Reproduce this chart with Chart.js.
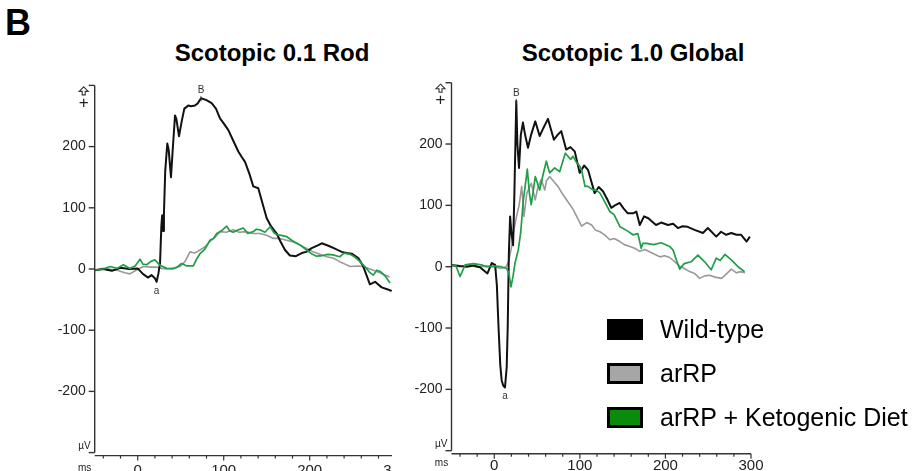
<!DOCTYPE html>
<html>
<head>
<meta charset="utf-8">
<title>Scotopic ERG</title>
<script src="https://cdn.jsdelivr.net/npm/chart.js@4.4.1/dist/chart.umd.min.js"></script>
<style>
    body {
        margin: 0;
        width: 914px;
        height: 471px;
        overflow: hidden;
        background: #fff;
        position: relative;
        font-family: "Liberation Sans", Arial, sans-serif;
        color: #000;
    }
    #panelLabel {
        position: absolute;
        left: 5px;
        top: 5px;
        font-size: 36px;
        line-height: 36px;
        font-weight: bold;
    }
    .title {
        position: absolute;
        top: 41px;
        font-size: 24px;
        line-height: 24px;
        font-weight: bold;
        white-space: nowrap;
        transform: translateX(-50%);
    }
    #rodWrap {
        position: absolute;
        left: 0;
        top: 0;
        width: 392px;
        height: 471px;
        overflow: hidden;
    }
    #globalWrap {
        position: absolute;
        left: 400px;
        top: 0;
        width: 380px;
        height: 471px;
    }
    .legend-row {
        position: absolute;
        left: 607px;
        height: 21px;
    }
    .legend-box {
        position: absolute;
        left: 0;
        top: 0;
        width: 36px;
        height: 21px;
        box-sizing: border-box;
        border: 3px solid #000;
    }
    .legend-text {
        position: absolute;
        left: 53px;
        top: -2px;
        font-size: 25px;
        line-height: 25px;
        white-space: nowrap;
    }
</style>
</head>
<body>
<div id="panelLabel">B</div>
<div class="title" style="left:272px">Scotopic 0.1 Rod</div>
<div class="title" style="left:633px">Scotopic 1.0 Global</div>
<div id="rodWrap"><canvas id="rodChart" width="460" height="471"></canvas></div>
<div id="globalWrap"><canvas id="globalChart" width="380" height="471"></canvas></div>
<div id="legend"></div>

<script>
// Groups
const groupNames = ['Wild-type', 'arRP', 'arRP + Ketogenic Diet'];
const lineColors = ['#111111', '#999999', '#1f9e48'];
const boxColors = ['#000000', '#a6a6a6', '#0a8c0a'];

// Axis ticks
const yTickValues = [-300, -200, -100, 0, 100, 200, 300];
const xMajorTicks = [0, 100, 200, 300];
const xMinorStep = 20;

// Scotopic 0.1 Rod traces (ms / µV)
const rodWildTypeMs = [-50, -40, -30, -20, -10, 0, 6, 12, 16, 20, 22, 24, 26, 27.5, 28.5, 29.5, 30.5, 32, 34.4, 36, 38.7, 40.5, 43.4, 45, 48, 51, 54.2, 58.8, 62, 66.6, 70, 73.6, 80, 86, 91, 95.7, 100, 105.4, 111, 117, 121, 124.8, 130, 134.4, 140.2, 145, 150, 155, 161.6, 166, 171.3, 177, 184, 190.7, 196, 202.3, 210, 214, 221.7, 228, 237.2, 243, 248.8, 256.5, 262, 266, 270, 276, 283.7, 290, 295.3];
const rodWildTypeUv = [-2, 0, -3, 2, 0, 1, -8, -14, -10, -15, -21, -8, 10, 70, 88, 62, 90, 160, 205, 195, 150, 190, 251, 245, 217, 240, 262, 267, 266, 267, 271, 279, 276, 271, 262, 246, 238, 227, 210, 192, 183, 175, 155, 135, 132, 108, 83, 70, 58, 45, 31, 22, 21, 26, 28, 34, 39, 42, 38, 34, 28, 26, 25, 18, 5, -10, -25, -21, -30, -33, -36];

const rodArrpMs = [-50, -40, -24, -15, -9, -2, 6.5, 15, 22, 28, 33.7, 42, 49, 55, 60.8, 66, 72.4, 78, 84, 90, 95.7, 103, 111, 118, 126.7, 134, 142, 150, 157.7, 165, 173, 181, 189, 196, 204, 212, 219.8, 227, 235, 241, 247, 255, 262, 270, 278, 285, 293];
const rodArrpUv = [-2, 1, -2, -6, -8, -2, 4, 3, 3, 1, 0, 2, 4, 12, 28, 26, 31, 36, 45, 52, 61, 60, 64, 60, 61, 58, 58, 55, 50, 50, 47, 44, 39, 34, 28, 24, 20, 18, 12, 8, 4, 5, 4, 0, -4, -8, -13];

const rodKetoMs = [-50, -40, -32, -24, -16.7, -9, -3, 2.7, 6, 10.5, 15, 20, 26, 33.7, 40, 45, 51, 57, 64.7, 68, 72.4, 78, 84, 88, 91.9, 97, 103.5, 107, 111, 117, 122.8, 128, 134.4, 138, 142, 148, 154, 158, 161.6, 167, 173, 179, 185, 190, 196.5, 202, 208, 215, 221, 227, 235, 240, 247, 252, 258.5, 266, 270, 274, 278, 282, 288, 293.4];
const rodKetoUv = [-2, 0, 4, 1, 7, 1, 5, 16, 8, 7, 12, 15, 6, 1, 0, 2, 9, 5, 5, 15, 25, 32, 47, 50, 58, 62, 70, 62, 60, 64, 67, 58, 61, 65, 64, 60, 69, 60, 56, 55, 53, 47, 42, 38, 31, 25, 21, 22, 24, 23, 20, 26, 24, 20, 12, 1, -6, -10, -2, -4, -12, -23];

// Scotopic 1.0 Global traces (ms / µV)
const globalWildTypeMs = [-52, -40, -32, -24, -16.7, -8, -3, 1, 3, 5, 7, 8.6, 10.5, 12.5, 14.5, 15.7, 17, 18.5, 20, 22, 23.5, 25.7, 27, 28.9, 31, 33.5, 36, 39.4, 43, 47.9, 53, 57, 62.7, 66, 69.7, 74, 78.3, 84, 89, 94, 99.8, 105, 109.5, 117.3, 122, 127, 132, 136.7, 141, 146.5, 151, 156, 162.4, 166, 170, 175, 180, 189, 195, 203, 209, 214.6, 220, 226, 234, 243.8, 249.6, 259.4, 265, 271, 277, 283, 288.5, 294.9, 298.7];
const globalWildTypeUv = [3, 1, 0, 2, -1, -11, 6, 3, -30, -100, -160, -185, -194, -197, -164, -98, 20, 82, 55, 35, 120, 270, 200, 161, 215, 235, 215, 194, 215, 237, 213, 225, 241, 225, 207, 215, 221, 191, 195, 188, 153, 165, 158, 120, 130, 123, 110, 96, 100, 104, 95, 87, 87, 90, 68, 82, 79, 68, 72, 68, 70, 63, 66, 65, 60, 55, 63, 49, 57, 52, 55, 52, 52, 41, 49];

const globalArrpMs = [-52, -40, -30, -20, -10, 0, 8, 14, 17, 20.3, 23, 26, 29, 32, 34.7, 38, 43.2, 47.9, 51, 54.9, 58.9, 61, 64.7, 70, 74.4, 80, 86, 92.3, 97, 102, 108, 113.8, 118, 123.5, 129, 135, 140, 146.8, 152, 158.5, 164, 170, 176, 182, 188, 193.6, 199, 205, 211, 216.7, 222, 228.4, 234, 240, 246, 251.8, 258, 265.6, 271, 277, 283, 288, 293];
const globalArrpUv = [2, 0, 3, -1, 1, 0, -3, 0, 10, 33, 60, 82, 100, 131, 82, 120, 136, 109, 130, 142, 125, 140, 147, 138, 131, 118, 106, 93, 80, 66, 72, 68, 60, 57, 52, 44, 46, 41, 36, 33, 30, 25, 28, 24, 20, 16, 18, 15, 8, 1, -3, -8, -11, -19, -15, -14, -17, -19, -12, -4, -10, -8, -10];

const globalKetoMs = [-52, -45, -40, -34, -24.5, -15, -9, 0, 8, 14.5, 17, 19.5, 22, 24.2, 28, 30.8, 34, 36, 38.6, 41, 43.2, 47.9, 53, 57, 60.8, 64.7, 70.6, 76.4, 83, 89.3, 92, 96, 99.8, 102, 106, 109.5, 115.6, 119.2, 123.5, 129, 135, 140, 147, 156, 162, 167.8, 171.7, 173.6, 178, 186, 195, 204.9, 209, 213, 216.7, 222, 230, 238, 245.8, 253.5, 259.4, 264, 269.5, 277, 284.8, 292.5];
const globalKetoUv = [3, 2, -16, 3, 5, 3, 0, 1, 0, -3, -10, -33, -15, 6, 27, 55, 109, 130, 159, 120, 101, 147, 125, 150, 172, 153, 161, 155, 185, 175, 180, 170, 164, 158, 131, 131, 125, 125, 120, 106, 90, 85, 65, 58, 52, 54, 30, 38, 38, 36, 39, 33, 27, 10, -4, 5, 8, 19, 8, -5, 14, 10, 20, 11, 0, -8];

const xMin = -50, xMax = 300;
const yMin = -300, yMax = 300;

// Helpers
function toPoints(ms, uv) {
    return ms.map((t, i) => ({ x: t, y: uv[i] }));
}

function makeDataset(ms, uv, groupIndex, width, order) {
    return {
        label: groupNames[groupIndex],
        data: toPoints(ms, uv),
        borderColor: lineColors[groupIndex],
        borderWidth: width,
        borderJoinStyle: 'round',
        pointRadius: 0,
        tension: 0,
        fill: false,
        order: order
    };
}

// Finds the a-wave trough and b-wave peak of the wild-type trace
function findWaves(ms, uv) {
    let b = 0, a = 0;
    uv.forEach((v, i) => {
        if (v > uv[b]) b = i;
        if (ms[i] < 50 && v < uv[a]) a = i;
    });
    return { a: { x: ms[a], y: uv[a] }, b: { x: ms[b], y: uv[b] } };
}

// Outlined "positive up" arrow above the + sign
function drawUpArrow(ctx, cx, top) {
    ctx.beginPath();
    ctx.moveTo(cx, top);
    ctx.lineTo(cx + 4.5, top + 4.5);
    ctx.lineTo(cx + 1.5, top + 4.5);
    ctx.lineTo(cx + 1.5, top + 8);
    ctx.lineTo(cx - 1.5, top + 8);
    ctx.lineTo(cx - 1.5, top + 4.5);
    ctx.lineTo(cx - 4.5, top + 4.5);
    ctx.closePath();
    ctx.stroke();
}

// Axes drawn in the instrument style: detached x axis, minor ms ticks, µV / ms units
const ergAxes = {
    id: 'ergAxes',
    afterDraw(chart, args, opts) {
        const ctx = chart.ctx;
        const xs = chart.scales.x;
        const ys = chart.scales.y;
        const left = xs.getPixelForValue(xMin);
        const right = xs.getPixelForValue(xMax);
        const top = ys.getPixelForValue(yMax);
        const bottom = ys.getPixelForValue(yMin);
        const axisY = bottom + opts.gap;
        const tickFont = '14px "Liberation Sans", Arial, sans-serif';

        ctx.save();
        ctx.strokeStyle = '#333';
        ctx.fillStyle = '#222';
        ctx.lineWidth = 1.4;

        // y axis
        ctx.beginPath();
        ctx.moveTo(left, top);
        ctx.lineTo(left, bottom);
        ctx.stroke();

        ctx.font = tickFont;
        ctx.textAlign = 'right';
        ctx.textBaseline = 'middle';
        yTickValues.forEach(v => {
            const py = ys.getPixelForValue(v);
            ctx.beginPath();
            ctx.moveTo(left - 6, py);
            ctx.lineTo(left, py);
            ctx.stroke();
            if (v === yMax) {
                ctx.lineWidth = 1.1;
                drawUpArrow(ctx, left - 11, py + 1.5);
                ctx.lineWidth = 1.4;
                ctx.font = '17px "Liberation Sans", Arial, sans-serif';
                ctx.textAlign = 'center';
                ctx.fillText('+', left - 11, py + 18);
                ctx.textAlign = 'right';
                ctx.font = tickFont;
            } else if (v === yMin) {
                ctx.font = '10px "Liberation Sans", Arial, sans-serif';
                ctx.fillText('µV', left - 4, py - 6);
                ctx.font = tickFont;
            } else {
                ctx.fillText(String(v), left - 9, py);
            }
        });

        // x axis
        ctx.beginPath();
        ctx.moveTo(left, axisY);
        ctx.lineTo(right, axisY);
        ctx.stroke();

        ctx.lineWidth = 1.2;
        for (let t = xMin + 10; t <= xMax; t += xMinorStep) {
            const px = xs.getPixelForValue(t);
            const major = xMajorTicks.includes(t);
            ctx.beginPath();
            ctx.moveTo(px, axisY);
            ctx.lineTo(px, axisY + (major ? 5 : 3));
            ctx.stroke();
        }

        ctx.font = '15px "Liberation Sans", Arial, sans-serif';
        ctx.textAlign = 'center';
        ctx.textBaseline = 'top';
        xMajorTicks.forEach(t => {
            ctx.fillText(String(t), xs.getPixelForValue(t), axisY + opts.labelGap);
        });

        ctx.font = '10px "Liberation Sans", Arial, sans-serif';
        ctx.fillText('ms', left - 10, axisY + opts.labelGap);

        // a-wave / b-wave markers
        const waves = opts.waves;
        ctx.fillStyle = '#333';
        const bx = xs.getPixelForValue(waves.b.x);
        const by = ys.getPixelForValue(waves.b.y);
        ctx.textBaseline = 'bottom';
        ctx.fillText('B', bx, by - 3);
        ctx.lineWidth = 1;
        ctx.beginPath();
        ctx.moveTo(bx, by - 2);
        ctx.lineTo(bx, by + 3);
        ctx.stroke();
        const ax = xs.getPixelForValue(waves.a.x);
        const ay = ys.getPixelForValue(waves.a.y);
        ctx.textBaseline = 'top';
        ctx.fillText('a', ax, ay + 4);
        ctx.restore();
    }
};

function buildChart(canvasId, sets, padding, axisOpts) {
    return new Chart(document.getElementById(canvasId), {
        type: 'line',
        data: { datasets: sets },
        options: {
            responsive: false,
            animation: false,
            devicePixelRatio: 1,
            layout: { padding: padding },
            plugins: {
                legend: { display: false },
                tooltip: { enabled: false },
                ergAxes: axisOpts
            },
            scales: {
                x: { type: 'linear', min: xMin, max: xMax, display: false },
                y: { type: 'linear', min: yMin, max: yMax, display: false }
            }
        },
        plugins: [ergAxes]
    });
}

// Scotopic 0.1 Rod
buildChart('rodChart', [
    makeDataset(rodKetoMs, rodKetoUv, 2, 1.7, 1),
    makeDataset(rodWildTypeMs, rodWildTypeUv, 0, 2, 2),
    makeDataset(rodArrpMs, rodArrpUv, 1, 1.6, 3)
], { left: 94.7, right: 64.3, top: 85.4, bottom: 18.4 },
   { gap: 3, labelGap: 8, waves: findWaves(rodWildTypeMs, rodWildTypeUv) });

// Scotopic 1.0 Global
buildChart('globalChart', [
    makeDataset(globalKetoMs, globalKetoUv, 2, 1.7, 1),
    makeDataset(globalWildTypeMs, globalWildTypeUv, 0, 2, 2),
    makeDataset(globalArrpMs, globalArrpUv, 1, 1.6, 3)
], { left: 51.5, right: 29, top: 82.7, bottom: 20.3 },
   { gap: 3, labelGap: 5, waves: findWaves(globalWildTypeMs, globalWildTypeUv) });

// Legend
const legendTops = [319, 363, 407];
const legend = document.getElementById('legend');
legend.innerHTML = groupNames.map((name, i) => `
    <div class="legend-row" style="top:${legendTops[i]}px">
        <div class="legend-box" style="background:${boxColors[i]}"></div>
        <div class="legend-text">${name}</div>
    </div>
`).join('');
</script>
</body>
</html>
